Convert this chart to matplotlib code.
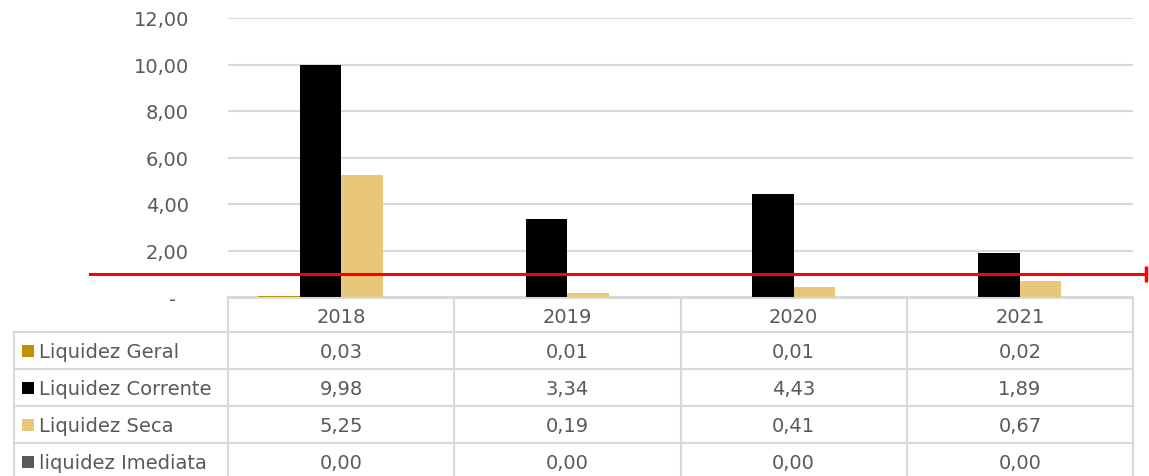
import matplotlib.pyplot as plt
from matplotlib.patches import Rectangle
import numpy as np

# ── Data ────────────────────────────────────────────────────────────────────
years = ["2018", "2019", "2020", "2021"]
series = ["Liquidez Geral", "Liquidez Corrente", "Liquidez Seca", "liquidez Imediata"]
geral = [0.03, 0.01, 0.01, 0.02]
corrente = [9.98, 3.34, 4.43, 1.89]
seca = [5.25, 0.19, 0.41, 0.67]
imediata = [0.00, 0.00, 0.00, 0.00]
values = [geral, corrente, seca, imediata]
colors = ["#BF9000", "#000000", "#E8C77A", "#595959"]
yticks = [0, 2, 4, 6, 8, 10, 12]
ref_level = 1.0

TXT = "#595959"
GRID = "#D9D9D9"
FS = 14

W, H = 1149, 477
fig = plt.figure(figsize=(W / 100, H / 100), dpi=100)

# ── Bars ────────────────────────────────────────────────────────────────────
ax = fig.add_axes([228 / W, 1 - 298 / H, (1133 - 228) / W, (298 - 19) / H])
x = np.arange(len(years))
bw = 0.183
for i, (vals, col) in enumerate(zip(values, colors)):
    ax.bar(x + (i - 1.5) * bw, vals, bw, color=col, zorder=3)

ax.set_xlim(-0.5, len(years) - 0.5)
ax.set_ylim(0, 12)
ax.set_yticks(yticks)
ax.set_yticklabels(["-  " if t == 0 else f"{t:.2f}".replace(".", ",") for t in yticks],
                   fontsize=FS, color=TXT)
ax.tick_params(axis="y", length=0, pad=28)
ax.set_xticks([])
ax.grid(axis="y", color=GRID, lw=1.5, zorder=0)
for s in ["top", "right", "left"]:
    ax.spines[s].set_visible(False)
ax.spines["bottom"].set_color(GRID)
ax.spines["bottom"].set_linewidth(1.5)

# ── Data table (pixel coordinates) ──────────────────────────────────────────
tab = fig.add_axes([0, 0, 1, 1], zorder=5)
tab.set_xlim(0, W)
tab.set_ylim(H, 0)
tab.axis("off")

edges = [ax.transData.transform((e, 0))[0] for e in np.arange(-0.5, len(years), 1.0)]
centers = [ax.transData.transform((c, 0))[0] for c in x]
left = 14
hdr_top, hdr_bot, row_h = 299, 333, 37
row_tops = [hdr_bot + k * row_h for k in range(len(series))]

# header
tab.plot([edges[0], edges[-1]], [hdr_top, hdr_top], color=GRID, lw=1.5)
for e in edges:
    tab.plot([e, e], [hdr_top, H + 5], color=GRID, lw=1.5)
tab.plot([left, left], [hdr_bot, H + 5], color=GRID, lw=1.5)
for yt in row_tops:
    tab.plot([left, edges[-1]], [yt, yt], color=GRID, lw=1.5)
for c, yr in zip(centers, years):
    tab.text(c, (hdr_top + hdr_bot) / 2 + 2, yr, ha="center", va="center",
             fontsize=FS, color=TXT)

for k, (name, vals, col) in enumerate(zip(series, values, colors)):
    yc = row_tops[k] + row_h / 2
    tab.add_patch(Rectangle((22, yc - 6), 12, 12, color=col, lw=0))
    tab.text(39, yc + 1, name, ha="left", va="center", fontsize=FS, color=TXT)
    for c, v in zip(centers, vals):
        tab.text(c, yc + 1, f"{v:.2f}".replace(".", ","), ha="center", va="center",
                 fontsize=FS, color=TXT)

# ── Reference line ──────────────────────────────────────────────────────────
py = H - ax.transData.transform((0, ref_level))[1]
tab.plot([90, 1146], [py, py], color="#FF0000", lw=2.2, zorder=6)
tab.plot([1146], [py], marker="|", ms=11, mew=2.5, color="#FF0000", zorder=6)

fig.savefig("out.png", dpi=100)
